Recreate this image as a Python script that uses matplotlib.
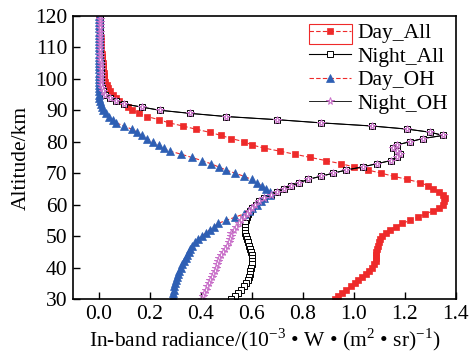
import matplotlib
matplotlib.use("Agg")
import matplotlib.pyplot as plt
from matplotlib.patches import Rectangle

plt.rcParams['font.family'] = ['Liberation Serif', 'DejaVu Serif']
plt.rcParams['mathtext.fontset'] = 'custom'
plt.rcParams['mathtext.rm'] = 'Liberation Serif'

altitude = list(range(120, 29, -1))

day_all = [0.003, 0.004, 0.004, 0.005, 0.005, 0.006, 0.007, 0.008, 0.009, 0.01,
           0.01, 0.011, 0.012, 0.013, 0.014, 0.016, 0.017, 0.018, 0.02, 0.021,
           0.023, 0.027, 0.032, 0.038, 0.045, 0.055, 0.067, 0.082, 0.1, 0.115,
           0.13, 0.16, 0.19, 0.237, 0.276, 0.33, 0.38, 0.435, 0.48, 0.52,
           0.57, 0.60, 0.647, 0.71, 0.77, 0.83, 0.89, 0.95, 1.0, 1.055,
           1.107, 1.156, 1.21, 1.26, 1.29, 1.31, 1.335, 1.35, 1.357, 1.355,
           1.348, 1.335, 1.31, 1.28, 1.25, 1.22, 1.19, 1.165, 1.14, 1.125,
           1.112, 1.103, 1.097, 1.093, 1.09, 1.088, 1.087, 1.086, 1.085, 1.08,
           1.07, 1.06, 1.047, 1.033, 1.018, 1.003, 0.988, 0.97, 0.955, 0.94,
           0.925]

night_all = [0.004, 0.004, 0.004, 0.005, 0.005, 0.005, 0.005, 0.005, 0.006, 0.006,
             0.006, 0.006, 0.007, 0.007, 0.007, 0.008, 0.008, 0.008, 0.009, 0.009,
             0.01, 0.01, 0.011, 0.012, 0.017, 0.025, 0.043, 0.07, 0.10, 0.17,
             0.24, 0.36, 0.50, 0.70, 0.87, 1.07, 1.21, 1.30, 1.35, 1.27,
             1.22, 1.17, 1.155, 1.17, 1.18, 1.17, 1.145, 1.09, 1.035, 0.97,
             0.92, 0.87, 0.82, 0.787, 0.755, 0.725, 0.70, 0.675, 0.65, 0.63,
             0.615, 0.603, 0.593, 0.585, 0.58, 0.577, 0.575, 0.574, 0.574, 0.575,
             0.577, 0.58, 0.585, 0.59, 0.594, 0.597, 0.60, 0.601, 0.601, 0.60,
             0.598, 0.595, 0.592, 0.588, 0.584, 0.578, 0.57, 0.557, 0.545, 0.533,
             0.52]

day_oh = [0.0, 0.0, 0.0, 0.0, 0.0, 0.0, 0.0, 0.0, 0.0, 0.0,
          0.0, 0.0, 0.0, 0.0, 0.0, 0.0, 0.0, 0.0, 0.0, 0.0,
          0.0, 0.0, 0.001, 0.001, 0.001, 0.002, 0.003, 0.005, 0.008, 0.012,
          0.018, 0.028, 0.04, 0.055, 0.069, 0.10, 0.13, 0.152, 0.17, 0.19,
          0.215, 0.235, 0.255, 0.28, 0.325, 0.365, 0.405, 0.44, 0.47, 0.50,
          0.535, 0.57, 0.60, 0.62, 0.64, 0.655, 0.67, 0.67, 0.65, 0.635,
          0.62, 0.603, 0.588, 0.568, 0.535, 0.50, 0.468, 0.452, 0.435, 0.42,
          0.405, 0.39, 0.378, 0.368, 0.36, 0.353, 0.348, 0.343, 0.335, 0.328,
          0.322, 0.317, 0.312, 0.308, 0.304, 0.30, 0.297, 0.294, 0.292, 0.29,
          0.288]

night_oh = [0.004, 0.004, 0.004, 0.005, 0.005, 0.005, 0.005, 0.005, 0.006, 0.006,
            0.006, 0.006, 0.007, 0.007, 0.007, 0.008, 0.008, 0.008, 0.009, 0.009,
            0.01, 0.01, 0.011, 0.012, 0.017, 0.025, 0.043, 0.07, 0.10, 0.17,
            0.24, 0.36, 0.50, 0.70, 0.87, 1.07, 1.21, 1.30, 1.35, 1.27,
            1.22, 1.17, 1.155, 1.17, 1.18, 1.17, 1.145, 1.09, 1.035, 0.97,
            0.92, 0.87, 0.82, 0.787, 0.755, 0.725, 0.70, 0.675, 0.65, 0.63,
            0.612, 0.60, 0.59, 0.58, 0.57, 0.56, 0.55, 0.54, 0.53, 0.52,
            0.52, 0.515, 0.51, 0.503, 0.496, 0.488, 0.48, 0.473, 0.468, 0.464,
            0.46, 0.455, 0.45, 0.444, 0.438, 0.432, 0.426, 0.42, 0.415, 0.41,
            0.404]

labels = ['Day_All', 'Night_All', 'Day_OH', 'Night_OH']
xticks = [0.0, 0.2, 0.4, 0.6, 0.8, 1.0, 1.2, 1.4]
yticks = [30, 40, 50, 60, 70, 80, 90, 100, 110, 120]

red = '#ee2a2a'
blue = '#2e5fb4'
pink = '#c86ec8'
fs = 15.5

fig = plt.figure(figsize=(4.71, 3.53), dpi=100)
ax = fig.add_axes([0.155, 0.153, 0.813, 0.802])

ax.plot(day_all, altitude, linestyle=(0, (4, 2)), color=red, linewidth=0.8,
        marker='s', markersize=5, markerfacecolor=red, markeredgecolor=red,
        markeredgewidth=0.5, label=labels[0])
ax.plot(night_all, altitude, linestyle='-', color='black', linewidth=0.8,
        marker='s', markersize=4.5, markerfacecolor='white', markeredgecolor='black',
        markeredgewidth=0.7, label=labels[1])
ax.plot(day_oh, altitude, linestyle=(0, (4, 2)), color=red, linewidth=0.8,
        marker='^', markersize=5.5, markerfacecolor=blue, markeredgecolor=blue,
        markeredgewidth=0.5, label=labels[2])
ax.plot(night_oh, altitude, linestyle='-', color='black', linewidth=0.6,
        marker='*', markersize=5.5, markerfacecolor='white', markeredgecolor=pink,
        markeredgewidth=0.7, label=labels[3])

ax.set_xlim(-0.1, 1.39)
ax.set_ylim(30, 120)
ax.set_xticks(xticks)
ax.set_xticklabels([f'{v:.1f}' for v in xticks])
ax.set_yticks(yticks)
ax.tick_params(direction='in', length=5, width=1.0, labelsize=fs, top=False, right=False, pad=4)
for s in ax.spines.values():
    s.set_linewidth(1.2)

ax.set_ylabel('Altitude/km', fontsize=fs, labelpad=3)
ax.set_xlabel('In-band radiance/(10$^{-3}$ • W • (m$^{2}$ • sr)$^{-1}$)',
              fontsize=fs, labelpad=2)

leg = ax.legend(loc='upper right', frameon=False, fontsize=fs, handlelength=1.95,
                handletextpad=0.3, labelspacing=0.155, borderaxespad=0.05,
                borderpad=0.3)

fig.canvas.draw()
try:
    tb = leg.get_texts()[0].get_window_extent(fig.canvas.get_renderer())
    right = tb.x0 - 6
    cy = 0.5 * (tb.y0 + tb.y1)
    rect = Rectangle((right - 43, cy - 10), 43, 20, transform=None,
                     fill=False, edgecolor=red, linewidth=0.8)
    fig.patches.append(rect)
except Exception:
    pass

fig.savefig('out.png', dpi=100)
